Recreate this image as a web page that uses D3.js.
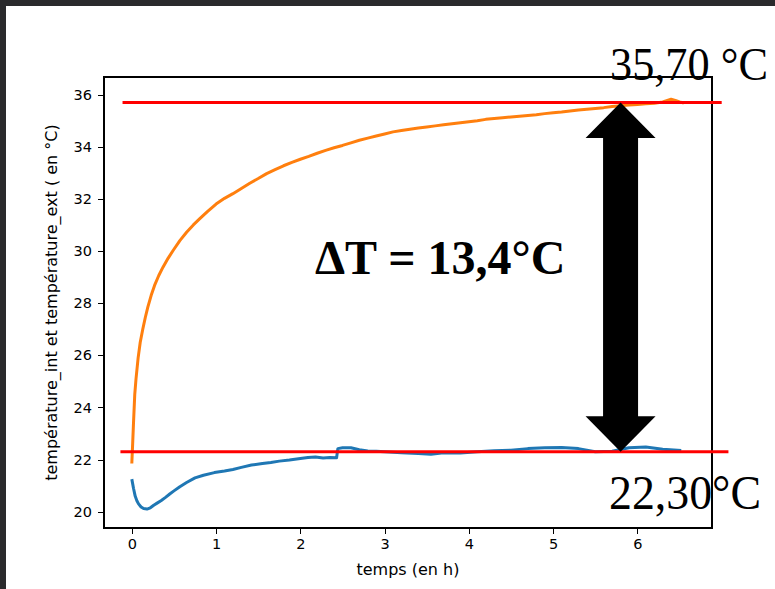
<!DOCTYPE html>
<meta charset="utf-8">
<style>
html, body {
  margin: 0;
  background: #fff;
}

.chart {
  display: block;
}

.chart .axis text {
  font-family: "DejaVu Sans", sans-serif;
  font-size: 14.5px;
  fill: #000;
}

.chart .axis line {
  stroke: #000;
  stroke-width: 1.1;
  shape-rendering: crispEdges;
}

.chart .label {
  font-family: "DejaVu Sans", sans-serif;
  font-size: 16px;
  fill: #000;
}

.chart .note {
  font-family: "Liberation Serif", "Times New Roman", serif;
  fill: #000;
}
</style>
<body>
<svg class="chart js-chart" width="775" height="589"></svg>

<script src="https://cdn.jsdelivr.net/npm/d3@7/dist/d3.min.js"></script>
<script>
"use strict";

// temps (h) / température intérieure (orange)
var tInt = [0, 0.01, 0.02, 0.035, 0.05, 0.075, 0.1, 0.13, 0.16, 0.19, 0.23, 0.27, 0.32, 0.37, 0.43,
  0.49, 0.57, 0.65, 0.73, 0.81, 0.9, 1.0, 1.1, 1.2, 1.3, 1.4, 1.5, 1.6, 1.7, 1.8, 1.9, 2.0,
  2.1, 2.2, 2.3, 2.4, 2.5, 2.6, 2.7, 2.8, 2.9, 3.0, 3.1, 3.2, 3.3, 3.4, 3.5, 3.6, 3.7, 3.8,
  3.9, 4.0, 4.1, 4.2, 4.3, 4.4, 4.5, 4.6, 4.7, 4.8, 4.9, 5.0, 5.1, 5.2, 5.3, 5.4, 5.5, 5.6,
  5.7, 5.8, 5.9, 6.0, 6.1, 6.2, 6.3, 6.4, 6.45, 6.5, 6.55];
var vInt = [21.85, 22.6, 23.4, 24.5, 25.1, 25.9, 26.5, 27.0, 27.45, 27.85, 28.3, 28.68, 29.06, 29.38, 29.72,
  30.02, 30.4, 30.72, 31.0, 31.25, 31.52, 31.8, 32.02, 32.2, 32.4, 32.6, 32.78, 32.97, 33.12, 33.27, 33.4, 33.52,
  33.63, 33.75, 33.86, 33.96, 34.05, 34.15, 34.25, 34.33, 34.41, 34.49, 34.57, 34.62, 34.67, 34.72, 34.76, 34.8, 34.84, 34.88,
  34.92, 34.96, 35.0, 35.05, 35.08, 35.11, 35.14, 35.17, 35.2, 35.23, 35.27, 35.3, 35.33, 35.37, 35.41, 35.44, 35.47, 35.5,
  35.54, 35.57, 35.6, 35.62, 35.65, 35.67, 35.72, 35.82, 35.78, 35.72, 35.68];

// temps (h) / température extérieure (bleu)
var tExt = [0, 0.02, 0.04, 0.06, 0.08, 0.11, 0.14, 0.18, 0.22, 0.26, 0.3, 0.35, 0.4, 0.45, 0.5,
  0.57, 0.65, 0.75, 0.85, 0.98, 1.1, 1.2, 1.3, 1.42, 1.55, 1.65, 1.75, 1.87, 2.0, 2.09, 2.18,
  2.27, 2.35, 2.43, 2.445, 2.5, 2.6, 2.7, 2.8, 2.9, 3.0, 3.2, 3.4, 3.55, 3.7, 3.9, 4.1, 4.3,
  4.5, 4.7, 4.9, 5.1, 5.3, 5.5, 5.7, 5.9, 6.1, 6.3, 6.52];
var vExt = [21.25, 20.9, 20.6, 20.42, 20.3, 20.18, 20.12, 20.1, 20.15, 20.25, 20.33, 20.43, 20.55, 20.68, 20.8,
  20.96, 21.12, 21.3, 21.4, 21.5, 21.56, 21.62, 21.7, 21.79, 21.85, 21.89, 21.94, 21.98, 22.04, 22.08, 22.1,
  22.06, 22.08, 22.07, 22.42, 22.45, 22.45, 22.38, 22.33, 22.32, 22.3, 22.26, 22.23, 22.2, 22.26, 22.25, 22.3, 22.34,
  22.36, 22.42, 22.45, 22.46, 22.42, 22.3, 22.32, 22.45, 22.48, 22.4, 22.35];

var xTicks = [0, 1, 2, 3, 4, 5, 6];
var yTicks = [20, 22, 24, 26, 28, 30, 32, 34, 36];

var refValues = [35.70, 22.30];
var refLabels = ["35,70 °C", "22,30°C"];
var deltaLabel = "ΔT = 13,4°C";
var arrowTime = 5.80;

var svg = d3.select(".js-chart");

// cadre sombre de la capture
svg.append("rect").attr("x", 0).attr("y", 0).attr("width", 775).attr("height", 6).attr("fill", "#2a2a2c");
svg.append("rect").attr("x", 0).attr("y", 0).attr("width", 6).attr("height", 589).attr("fill", "#2a2a2c");

var plot = { left: 104, right: 712, top: 77, bottom: 528 };

var x = d3.scaleLinear().domain([-0.33, 6.885]).range([plot.left, plot.right]);
var y = d3.scaleLinear().domain([19.375, 36.675]).range([plot.bottom, plot.top]);

svg.append("g")
  .attr("class", "axis")
  .attr("transform", "translate(0," + plot.bottom + ")")
  .call(d3.axisBottom(x).tickValues(xTicks).tickSize(6).tickPadding(5).tickFormat(d3.format("d")))
  .call(function (g) { g.select(".domain").remove(); });

svg.append("g")
  .attr("class", "axis")
  .attr("transform", "translate(" + plot.left + ",0)")
  .call(d3.axisLeft(y).tickValues(yTicks).tickSize(6).tickPadding(6).tickFormat(d3.format("d")))
  .call(function (g) { g.select(".domain").remove(); });

svg.append("rect")
  .attr("x", plot.left)
  .attr("y", plot.top)
  .attr("width", plot.right - plot.left)
  .attr("height", plot.bottom - plot.top)
  .attr("fill", "none")
  .attr("stroke", "#000")
  .attr("stroke-width", 1.1)
  .attr("shape-rendering", "crispEdges");

var line = d3.line()
  .x(function (d) { return x(d[0]); })
  .y(function (d) { return y(d[1]); });

svg.append("path")
  .datum(d3.zip(tExt, vExt))
  .attr("d", line)
  .attr("fill", "none")
  .attr("stroke", "#1f77b4")
  .attr("stroke-width", 3)
  .attr("stroke-linejoin", "round");

svg.append("path")
  .datum(d3.zip(tInt, vInt))
  .attr("d", line)
  .attr("fill", "none")
  .attr("stroke", "#ff7f0e")
  .attr("stroke-width", 3)
  .attr("stroke-linejoin", "round");

// lignes de repère rouges (dépassent du cadre)
svg.selectAll(".ref").data(refValues)
  .enter().append("line")
    .attr("class", "ref")
    .attr("x1", function (d, i) { return x(i === 0 ? -0.11 : -0.135); })
    .attr("x2", function (d, i) { return x(i === 0 ? 7.0 : 7.08); })
    .attr("y1", y)
    .attr("y2", y)
    .attr("stroke", "#ff0000")
    .attr("stroke-width", 3);

// double flèche
var ax = x(arrowTime), yt = y(refValues[0]), yb = y(refValues[1]);
var hw = 35, sw = 17.5, hl = 35.5;
svg.append("polygon")
  .attr("points", [
    [ax, yt], [ax + hw, yt + hl], [ax + sw, yt + hl], [ax + sw, yb - hl], [ax + hw, yb - hl],
    [ax, yb], [ax - hw, yb - hl], [ax - sw, yb - hl], [ax - sw, yt + hl], [ax - hw, yt + hl]
  ].map(function (p) { return p.join(","); }).join(" "))
  .attr("fill", "#000");

svg.append("text")
  .attr("class", "note")
  .attr("x", 610).attr("y", 80)
  .attr("font-size", 46)
  .attr("textLength", 158)
  .attr("lengthAdjust", "spacingAndGlyphs")
  .text(refLabels[0]);

svg.append("text")
  .attr("class", "note")
  .attr("x", 609).attr("y", 509)
  .attr("font-size", 48)
  .attr("textLength", 152)
  .attr("lengthAdjust", "spacingAndGlyphs")
  .text(refLabels[1]);

svg.append("text")
  .attr("class", "note")
  .attr("x", 315).attr("y", 274)
  .attr("font-size", 48)
  .attr("font-weight", "bold")
  .text(deltaLabel);

svg.append("text")
  .attr("class", "label")
  .attr("x", (plot.left + plot.right) / 2)
  .attr("y", 575)
  .attr("text-anchor", "middle")
  .text("temps (en h)");

svg.append("text")
  .attr("class", "label")
  .attr("transform", "translate(57," + (plot.top + plot.bottom) / 2 + ") rotate(-90)")
  .attr("text-anchor", "middle")
  .text("température_int et température_ext ( en °C)");
</script>
</body>
